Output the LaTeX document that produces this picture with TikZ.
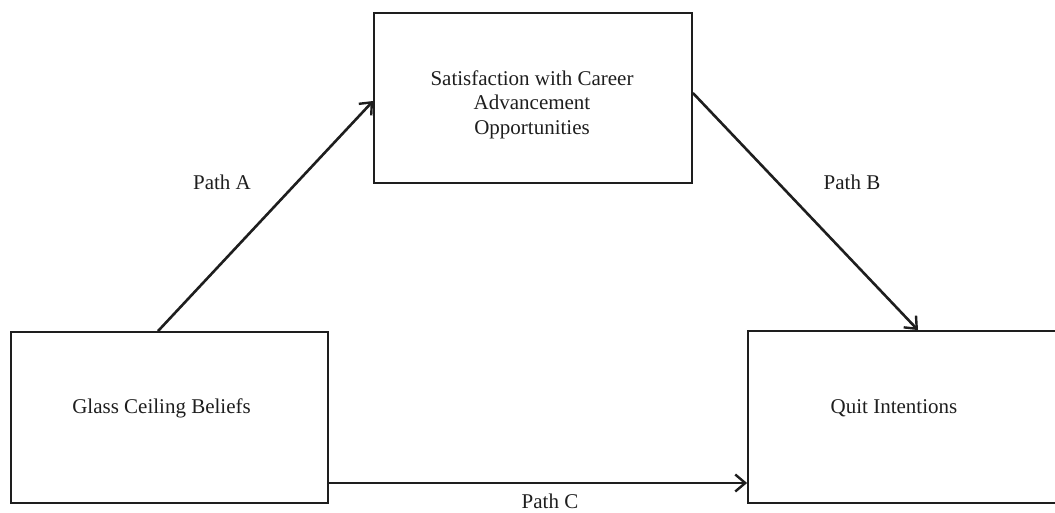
\documentclass[tikz,border=0pt]{standalone}
\usepackage{fontspec}
\setmainfont{Liberation Serif}
\usetikzlibrary{arrows.meta}
\definecolor{ink}{HTML}{1E1E1E}
\tikzset{
  box/.style={draw=ink, line width=1.8pt, inner sep=0pt, anchor=center},
  arr/.style={draw=ink, line width=2.6pt, -{Straight Barb[length=10pt,width=17pt,line width=2.4pt]}},
  lbl/.style={font=\fontsize{21}{24.5}\selectfont, text=ink, inner sep=0pt, align=center}
}
\begin{document}
\begin{tikzpicture}[x=1pt,y=1pt]
\useasboundingbox (0,0) rectangle (1055,513);
% boxes
\node[box, minimum width=317pt, minimum height=171pt] (gcb) at (169.5,95.5) {};
\node[box, minimum width=318pt, minimum height=170pt] (sat) at (533,415) {};
\node[box, minimum width=324pt, minimum height=172pt] (qi) at (910,96) {};
% texts
\node[lbl, anchor=base] (tgcb) at (161.5,99) {Glass Ceiling Beliefs};
\node[lbl, anchor=base] (tqi) at (894,99) {Quit Intentions};
\node[lbl, anchor=north] (tsat) at (532,442.5) {Satisfaction with Career\\Advancement\\Opportunities};
% arrows
\draw[arr] ([xshift=-11.5pt]gcb.north) -- ([yshift=-3pt]sat.west);
\draw[arr] ([yshift=5pt]sat.east) -- ([xshift=8pt]qi.north);
\draw[arr] ([yshift=-65.5pt]gcb.east) -- ([yshift=-65.5pt]gcb.east -| qi.west);
% labels
\node[lbl, anchor=base] (pa) at (222,323) {Path A};
\node[lbl, anchor=base] (pb) at (852,323) {Path B};
\node[lbl, anchor=base] (pc) at (550,4) {Path C};
\end{tikzpicture}
\end{document}
